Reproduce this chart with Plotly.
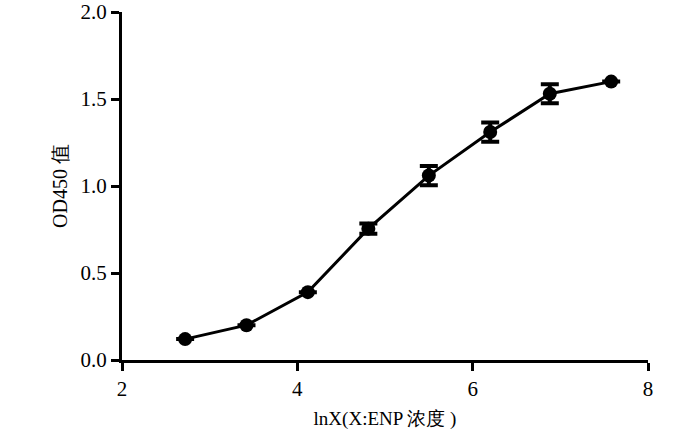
import plotly.graph_objects as go

ln_conc = [2.72, 3.42, 4.12, 4.81, 5.50, 6.20, 6.88, 7.58]
od450 = [0.12, 0.20, 0.39, 0.755, 1.06, 1.31, 1.53, 1.60]
od_err = [None, None, None, 0.03, 0.055, 0.055, 0.055, None]

FONT = "Times New Roman, Liberation Serif, serif"

fig = go.Figure(go.Scatter(
    x=ln_conc, y=od450,
    mode="lines+markers",
    line=dict(color="black", width=3),
    marker=dict(color="black", size=14),
    error_y=dict(type="data", array=od_err, color="black", thickness=4, width=9),
    cliponaxis=False,
))

axis_style = dict(
    showline=True, linecolor="black", linewidth=3,
    ticks="outside", ticklen=8, tickwidth=3, tickcolor="black",
    showgrid=False, zeroline=False, automargin=False,
    tickfont=dict(family=FONT, size=21, color="black"),
)

fig.update_xaxes(range=[2, 8], tickvals=[2, 4, 6, 8], **axis_style,
                 title=dict(text="lnX(X:ENP 浓度 )", standoff=12,
                            font=dict(family=FONT, size=19, color="black")))
fig.update_yaxes(range=[0, 2], tickvals=[0, 0.5, 1.0, 1.5, 2.0],
                 tickformat=".1f", **axis_style,
                 title=dict(text="OD450 值", standoff=8,
                            font=dict(family=FONT, size=20, color="black")))

fig.update_layout(
    width=700, height=439,
    margin=dict(l=122, r=52, t=12, b=79),
    plot_bgcolor="white", paper_bgcolor="white",
    showlegend=False,
)

# drop the default page margin so the figure sits at the window's corner
fig.write_html("out.html", config={"displayModeBar": False},
               post_script="document.body.style.margin='0';")
